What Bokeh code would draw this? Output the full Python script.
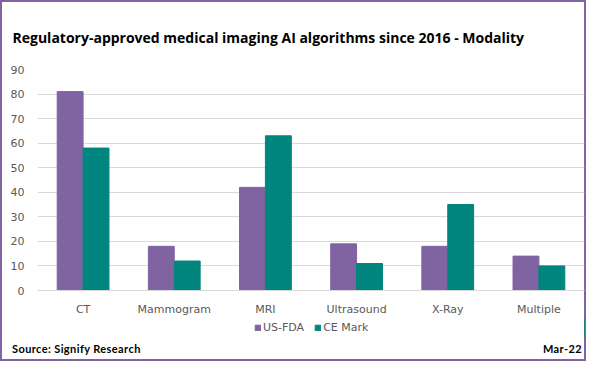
from bokeh.plotting import figure
from bokeh.models import FactorRange, Legend, LegendItem, Range1d, FixedTicker, Title, Div
from bokeh.layouts import column
from bokeh.transform import dodge
from bokeh.embed import file_html
from bokeh.resources import INLINE

categories = ["CT", "Mammogram", "MRI", "Ultrasound", "X-Ray", "Multiple"]
us_fda = [81, 18, 42, 19, 18, 14]
ce_mark = [58, 12, 63, 11, 35, 10]
series_names = ["US-FDA", "CE Mark"]
y_ticks = [0, 10, 20, 30, 40, 50, 60, 70, 80, 90]
title_text = "Regulatory-approved medical imaging AI algorithms since 2016 - Modality"
source_text = "Source: Signify Research"
date_text = "Mar-22"

PURPLE = "#8064A2"
TEAL = "#00857F"
FONT = "DejaVu Sans"
TFONT = "Open Sans"

W = 586
FIG_H = 318
LEG_H = 20
FOOT_H = 23
BL, BR, BT, BB = 37, 2, 69, 27

p = figure(x_range=FactorRange(*categories), y_range=Range1d(0, 90),
           width=W, height=FIG_H, output_backend="svg", toolbar_location=None,
           min_border_left=BL, min_border_right=BR, min_border_top=BT, min_border_bottom=BB)
p.title = Title(text=title_text, align="left", offset=-25, standoff=46, text_font=TFONT,
                text_font_size="14px", text_font_style="bold", text_color="#000000")
p.border_fill_color = None
p.background_fill_color = None

src = dict(cat=categories, fda=us_fda, ce=ce_mark)
r1 = p.vbar(x=dodge("cat", -0.142, range=p.x_range), top="fda", width=0.284, source=src,
            fill_color=PURPLE, line_color=PURPLE)
r2 = p.vbar(x=dodge("cat", 0.142, range=p.x_range), top="ce", width=0.284, source=src,
            fill_color=TEAL, line_color=TEAL)

p.outline_line_color = None
p.xgrid.grid_line_color = None
p.ygrid.grid_line_color = "#D9D9D9"
p.yaxis.ticker = FixedTicker(ticks=y_ticks)
p.yaxis.axis_line_color = None
p.yaxis.major_tick_line_color = None
p.yaxis.minor_tick_line_color = None
p.yaxis.major_label_text_font = FONT
p.yaxis.major_label_text_font_size = "11px"
p.yaxis.major_label_text_color = "#595959"
p.yaxis.major_label_standoff = 7
p.xaxis.axis_line_color = "#D9D9D9"
p.xaxis.major_tick_line_color = None
p.xaxis.minor_tick_line_color = None
p.xaxis.major_label_text_font = FONT
p.xaxis.major_label_text_font_size = "11px"
p.xaxis.major_label_text_color = "#595959"
p.xaxis.major_label_standoff = 6

# legend strip: a small figure whose frame fills it, holding the legend
pl = figure(width=W, height=LEG_H, x_range=Range1d(0, 1), y_range=Range1d(0, 1),
            output_backend="svg", toolbar_location=None,
            x_axis_location=None, y_axis_location=None,
            min_border_left=0, min_border_right=0, min_border_top=0, min_border_bottom=0)
pl.grid.visible = False
pl.outline_line_color = None
pl.border_fill_color = None
pl.background_fill_color = None
lr1 = pl.vbar(x=[5], top=[1], width=0.1, fill_color=PURPLE, line_color=PURPLE)
lr2 = pl.vbar(x=[5], top=[1], width=0.1, fill_color=TEAL, line_color=TEAL)
legend = Legend(items=[LegendItem(label=series_names[0], renderers=[lr1]),
                       LegendItem(label=series_names[1], renderers=[lr2])],
                orientation="horizontal", location=(217, 4),
                glyph_width=7, glyph_height=7, label_height=12, label_text_font=FONT,
                label_text_font_size="11px", label_text_color="#595959",
                border_line_color=None, background_fill_alpha=0,
                spacing=10, label_standoff=2, padding=0, margin=0)
pl.add_layout(legend, "center")

footer_html = (
    '<div style="display:flex;justify-content:space-between;align-items:center;'
    'height:%dpx;width:%dpx;box-sizing:border-box;padding:0 4px 2px 12px;'
    'font-family:Lato;font-weight:bold;font-size:11px;letter-spacing:0.4px;color:#000;">'
    '<span>%s</span><span>%s</span></div>' % (FOOT_H, W, source_text, date_text)
)
footer = Div(text=footer_html, width=W, height=FOOT_H, margin=0)

layout = column(p, pl, footer, spacing=0,
                styles={"box-shadow": "inset 0 0 0 2px #8064A2", "background": "#ffffff"})

open("out.html", "w").write(file_html(layout, INLINE))
